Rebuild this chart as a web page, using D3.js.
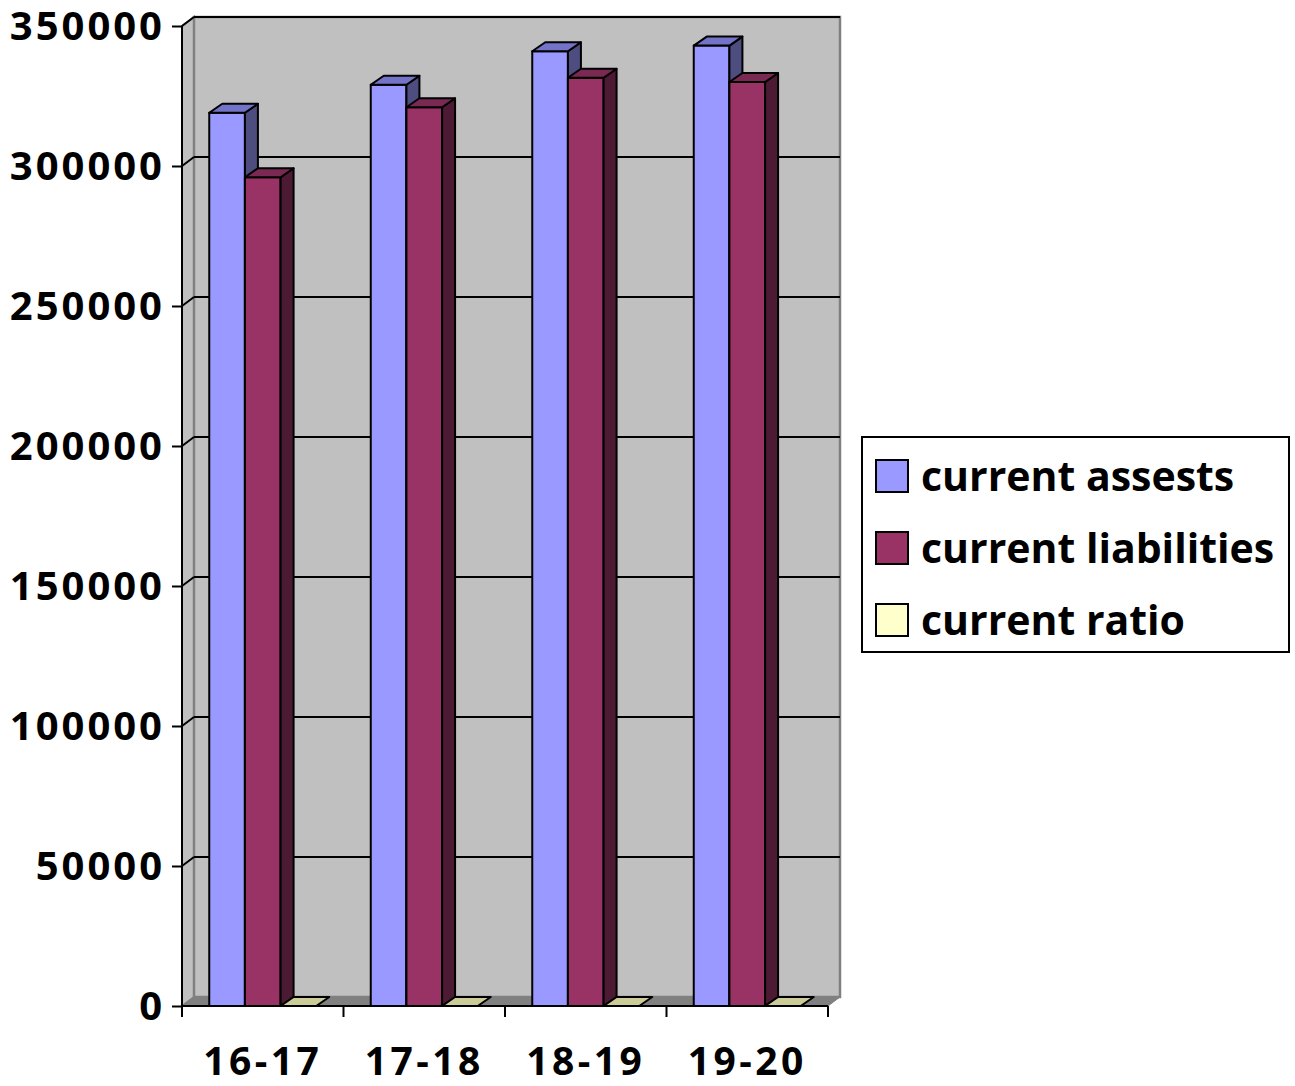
<!DOCTYPE html>
<html><head><meta charset="utf-8">
<script src="https://cdn.jsdelivr.net/npm/d3@7"></script>
<style>
html,body{margin:0;padding:0;background:#fff;}
text{font-family:"Open Sans",Lato,sans-serif;font-weight:bold;fill:#000;}
</style></head>
<body>
<svg id="chart" width="1295" height="1086"></svg>
<script>
const categories = ["16-17", "17-18", "18-19", "19-20"];
const seriesNames = ["current assests", "current liabilities", "current ratio"];
const currentAssets = [319000, 329000, 341000, 343000];
const currentLiabilities = [296000, 321000, 331500, 330000];
const currentRatio = [1.08, 1.02, 1.03, 1.04];
const yTicks = [0, 50000, 100000, 150000, 200000, 250000, 300000, 350000];

const seriesValues = [currentAssets, currentLiabilities, currentRatio];
const faceColors = ["#9999FF", "#993366", "#FFFFCC"];
const topColors = ["#7373C8", "#7A2952", "#CCCC99"];
const sideColors = ["#4D4D80", "#4D1A33", "#80805F"];

(function () {
const FONT = "'Open Sans', Lato, sans-serif";
const svg = d3.select("#chart");
const pLeft = 182, pRight = 828, pBottom = 1006, pTop = 26;
const DX = 12, DY = -9;   // wall depth
const BDX = 13, BDY = -9; // bar depth

const y = d3.scaleLinear().domain([0, 350000]).range([pBottom, pTop]);
const x0 = d3.scaleBand().domain(categories).range([pLeft, pRight]).paddingInner(0.3375).paddingOuter(0.16875);
const x1 = d3.scaleBand().domain(d3.range(seriesNames.length)).range([0, x0.bandwidth()]);

svg.append("polygon")
  .attr("points", [[pLeft, pBottom], [pLeft, pTop], [pLeft + DX, pTop + DY], [pLeft + DX, pBottom + DY]].join(" "))
  .attr("fill", "#C0C0C0").attr("stroke", "#808080").attr("stroke-width", 2);
svg.append("rect")
  .attr("x", pLeft + DX).attr("y", pTop + DY)
  .attr("width", pRight - pLeft).attr("height", pBottom - pTop)
  .attr("fill", "#C0C0C0").attr("stroke", "#808080").attr("stroke-width", 2.5);
svg.append("polygon")
  .attr("points", [[pLeft, pBottom], [pLeft + DX, pBottom + DY], [pRight + DX, pBottom + DY], [pRight, pBottom]].join(" "))
  .attr("fill", "#808080").attr("stroke", "#808080").attr("stroke-width", 1);

yTicks.forEach(t => {
  if (t === 0) return;
  const yy = y(t);
  svg.append("line").attr("x1", pLeft + DX).attr("x2", pRight + DX).attr("y1", yy + DY).attr("y2", yy + DY)
    .attr("stroke", "#000").attr("stroke-width", 2);
  svg.append("line").attr("x1", pLeft).attr("x2", pLeft + DX).attr("y1", yy).attr("y2", yy + DY)
    .attr("stroke", "#000").attr("stroke-width", 2);
});

categories.forEach((c, ci) => {
  seriesValues.forEach((vals, si) => {
    const bx = x0(c) + x1(si), bw = x1.bandwidth();
    const by = y(vals[ci]), b0 = y(0);
    const g = svg.append("g");
    if (b0 - by > 0.5) {
      g.append("rect").attr("x", bx).attr("y", by).attr("width", bw).attr("height", b0 - by)
        .attr("fill", faceColors[si]).attr("stroke", "#000").attr("stroke-width", 2).attr("stroke-linejoin", "round");
      g.append("polygon")
        .attr("points", [[bx + bw, b0], [bx + bw, by], [bx + bw + BDX, by + BDY], [bx + bw + BDX, b0 + BDY]].join(" "))
        .attr("fill", sideColors[si]).attr("stroke", "#000").attr("stroke-width", 2).attr("stroke-linejoin", "round");
    }
    g.append("polygon")
      .attr("points", [[bx, by], [bx + BDX, by + BDY], [bx + bw + BDX, by + BDY], [bx + bw, by]].join(" "))
      .attr("fill", topColors[si]).attr("stroke", "#000").attr("stroke-width", 2).attr("stroke-linejoin", "round");
  });
});

const yAxis = d3.axisLeft(y).tickValues(yTicks).tickSize(10).tickPadding(7).tickFormat(d3.format("d"));
const ya = svg.append("g").attr("transform", `translate(${pLeft},0)`).call(yAxis);
ya.select(".domain").attr("stroke", "#000").attr("stroke-width", 2).attr("d", `M0,${pTop}V${pBottom + 10}`);
ya.selectAll(".tick line").attr("stroke", "#000").attr("stroke-width", 2);
ya.selectAll(".tick text").attr("font-size", 40).style("font-family", FONT).style("font-weight", "bold")
  .style("letter-spacing", "3px").attr("dy", "0.33em");

const xAxis = d3.axisBottom(x0).tickSize(0).tickPadding(41);
const xa = svg.append("g").attr("transform", `translate(0,${pBottom})`).call(xAxis);
xa.select(".domain").attr("stroke", "#000").attr("stroke-width", 2).attr("d", `M${pLeft},0H${pRight}`);
xa.selectAll(".tick text").attr("font-size", 39).style("font-family", FONT).style("font-weight", "bold")
  .style("letter-spacing", "3.5px");
const bounds = [pLeft].concat(categories.map(c => x0(c) + x0.bandwidth() + x0.step() * x0.paddingInner() / 2));
xa.selectAll(".bnd").data(bounds).join("line").attr("class", "bnd")
  .attr("x1", d => d).attr("x2", d => d).attr("y1", 0).attr("y2", 11)
  .attr("stroke", "#000").attr("stroke-width", 2);

const lg = svg.append("g");
lg.append("rect").attr("x", 862).attr("y", 437).attr("width", 427).attr("height", 215)
  .attr("fill", "#fff").attr("stroke", "#000").attr("stroke-width", 2);
const ly = d3.scalePoint().domain(d3.range(seriesNames.length)).range([476, 620]);
seriesNames.forEach((n, i) => {
  lg.append("rect").attr("x", 876).attr("y", ly(i) - 16).attr("width", 32).attr("height", 32)
    .attr("fill", faceColors[i]).attr("stroke", "#000").attr("stroke-width", 2);
  lg.append("text").attr("x", 921).attr("y", ly(i)).attr("dy", "0.36em").attr("font-size", 41).text(n);
});
})();
</script>
</body></html>
